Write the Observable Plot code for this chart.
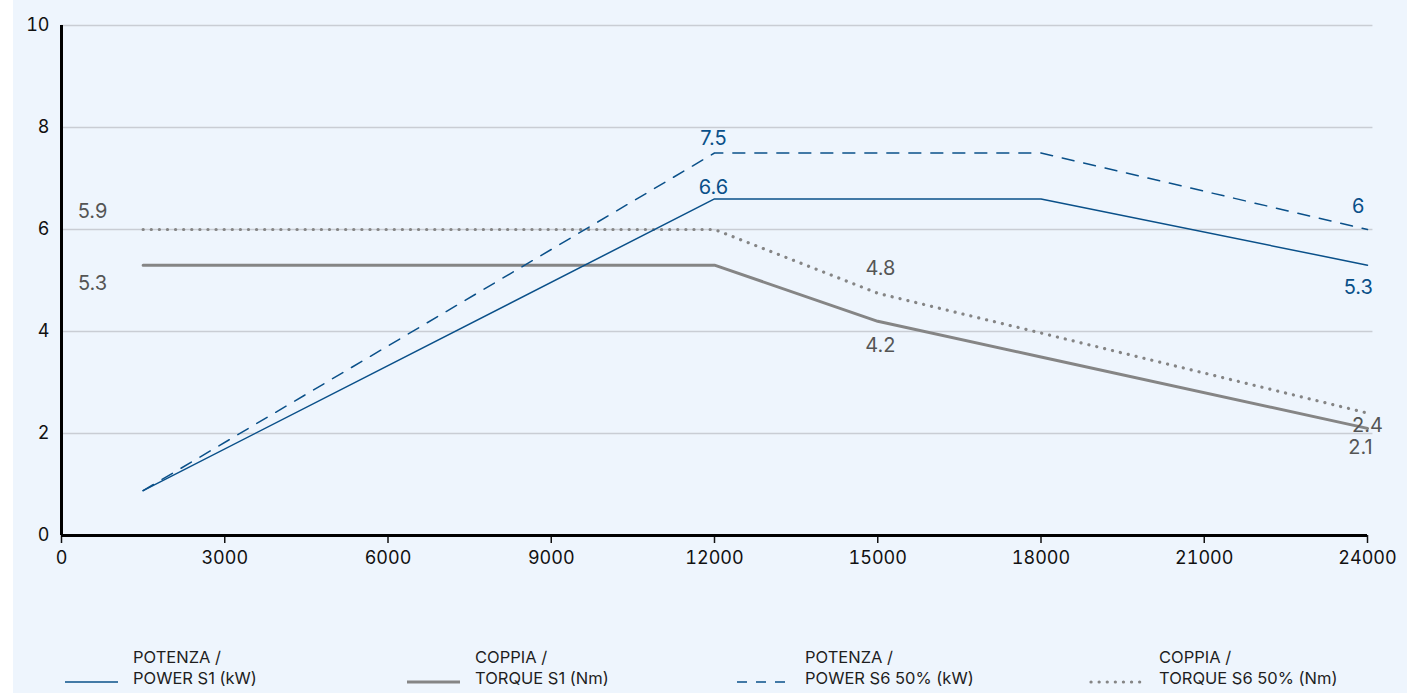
<!DOCTYPE html>
<html>
<head>
<meta charset="utf-8">
<script src="https://cdn.jsdelivr.net/npm/d3@7"></script>
<script src="https://cdn.jsdelivr.net/npm/@observablehq/plot@0.6"></script>
<style>
  html, body { margin: 0; padding: 0; }
  body { width: 1407px; height: 693px; overflow: hidden;
         background: linear-gradient(to right, #ffffff 13px, #eef5fd 13px);
         font-family: "Inter", "Lato", sans-serif; }
  #wrap { position: relative; width: 1407px; height: 693px; }
  #legend { position: absolute; left: 0; top: 0; width: 1407px; height: 693px; pointer-events: none; }
  .item { position: absolute; top: 647px; display: flex; align-items: flex-end; }
  .item svg { margin-right: 14px; margin-bottom: 4px; }
  .item .txt { font-size: 16.5px; line-height: 21px; color: #1e1e1e; }
</style>
</head>
<body>
<div id="wrap"><div id="chart"></div><div id="legend"></div></div>
<script>
// ---- data ----
const rpm = [1500, 12000, 15000, 18000, 24000];
const powerS1   = [0.88, 6.6, 6.6, 6.6, 5.3];
const powerS6   = [0.88, 7.5, 7.5, 7.5, 6.0];
const torqueS1  = [5.3, 5.3, 4.2, 3.5, 2.1];
const torqueS6  = [6.0, 6.0, 4.75, 3.97, 2.4];
const seriesNames = ["POTENZA /\nPOWER S1 (kW)", "COPPIA /\nTORQUE S1 (Nm)", "POTENZA /\nPOWER S6 50% (kW)", "COPPIA /\nTORQUE S6 50% (Nm)"];
const xTicks = [0, 3000, 6000, 9000, 12000, 15000, 18000, 21000, 24000];
const yTicks = [0, 2, 4, 6, 8, 10];
// value labels
const labelText = ["5.9", "5.3", "7.5", "6.6", "4.8", "4.2", "6", "5.3", "2.4", "2.1"];
const labelX    = [570, 570, 11980, 11980, 15050, 15050, 23830, 23830, 24000, 23870];
const labelY    = [6.35, 4.94, 7.78, 6.82, 5.24, 3.73, 6.45, 4.86, 2.16, 1.73];
const labelKind = ["torque", "torque", "power", "power", "torque", "torque", "power", "power", "torque", "torque"];

const BLUE = "#0a5089";
const GREY = "#858585";
const LABEL_GREY = "#555555";

const mk = (ys) => rpm.map((r, i) => ({x: r, y: ys[i]}));
const s1p = mk(powerS1), s6p = mk(powerS6), s1t = mk(torqueS1), s6t = mk(torqueS6);
const labels = labelText.map((t, i) => ({x: labelX[i], y: labelY[i], t, k: labelKind[i]}));

const chart = Plot.plot({
  width: 1407,
  height: 600,
  marginLeft: 61,
  marginRight: 40,
  marginTop: 25,
  marginBottom: 65,
  style: {background: "transparent", fontFamily: "Inter, Lato, sans-serif", fontSize: "18px", color: "#111"},
  x: {domain: [0, 24000], ticks: xTicks, tickFormat: d => String(d), label: null},
  y: {domain: [0, 10], ticks: yTicks, tickFormat: d => String(d), label: null},
  marks: [
    Plot.gridY(yTicks.filter(d => d > 0), {stroke: "#c9cdd4", strokeOpacity: 1, strokeWidth: 1.5, x1: 0, x2: 24100}),
    Plot.axisY({ticks: yTicks, tickSize: 0, tickPadding: 12, fontSize: 18, tickFormat: d => String(d)}),
    Plot.axisX({ticks: xTicks, tickSize: 8, tickPadding: 8, fontSize: 18, strokeWidth: 1.5, tickFormat: d => String(d)}),
    Plot.line(s1t, {x: "x", y: "y", stroke: GREY, strokeWidth: 3}),
    Plot.line(s6t, {x: "x", y: "y", stroke: GREY, strokeWidth: 3.2, strokeDasharray: "0.1 8", strokeLinecap: "round"}),
    Plot.line(s1p, {x: "x", y: "y", stroke: BLUE, strokeWidth: 1.5}),
    Plot.line(s6p, {x: "x", y: "y", stroke: BLUE, strokeWidth: 1.5, strokeDasharray: "12 10"}),
    Plot.ruleX([0], {stroke: "#000", strokeWidth: 3}),
    Plot.ruleY([0], {stroke: "#000", strokeWidth: 3}),
    Plot.text(labels, {x: "x", y: "y", text: "t", fill: d => d.k === "power" ? BLUE : LABEL_GREY, fontSize: 20, textAnchor: "middle"})
  ]
});
document.getElementById("chart").appendChild(chart);

// ---- legend ----
const legendX = [63, 405, 735, 1089];
const legendStyles = [
  {stroke: BLUE, width: 1.5, dash: null, cap: "butt"},
  {stroke: GREY, width: 3, dash: null, cap: "butt"},
  {stroke: BLUE, width: 1.5, dash: "10 9", cap: "butt"},
  {stroke: GREY, width: 3.2, dash: "0.1 8", cap: "round"}
];
const legend = document.getElementById("legend");
seriesNames.forEach((name, i) => {
  const st = legendStyles[i];
  const item = document.createElement("div");
  item.className = "item";
  item.style.left = legendX[i] + "px";
  const sw = d3.create("svg").attr("width", 56).attr("height", 6);
  sw.append("line").attr("x1", 2).attr("x2", 55).attr("y1", 3).attr("y2", 3)
    .attr("stroke", st.stroke).attr("stroke-width", st.width)
    .attr("stroke-dasharray", st.dash).attr("stroke-linecap", st.cap);
  item.appendChild(sw.node());
  const txt = document.createElement("div");
  txt.className = "txt";
  txt.innerHTML = name.split("\n").join("<br>");
  item.appendChild(txt);
  legend.appendChild(item);
});
</script>
</body>
</html>
